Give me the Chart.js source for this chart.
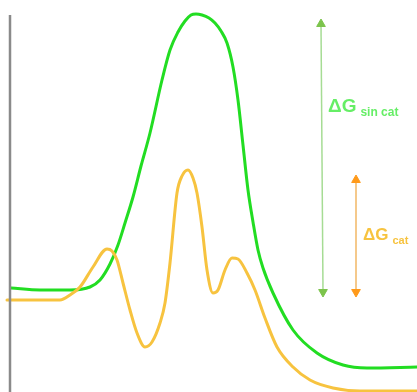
<!DOCTYPE html>
<html>
<head>
<meta charset="utf-8">
<script src="https://cdn.jsdelivr.net/npm/chart.js@4"></script>
<style>
html,body{margin:0;padding:0;background:#fff;}
#wrap{width:417px;height:392px;}
</style>
</head>
<body>
<div id="wrap"><canvas id="c" width="417" height="392"></canvas></div>
<script>
// Reaction coordinate (x) and energy (y, measured upward from the bottom)
const uncatX = [11,40,70,90,100,110,118,125,133,141,150,162,170,178,185,191,196,202,209,215,221,227,233,238,243,248,253,258,263,273,293,317,343,367,417];
const uncatY = [104,102,102,105,112,128,147,169,195,226,259,312,342,360,371,377,378,377,374,369,361,349,325,292,247,202,170,142,124,99,62,39,27,24,25];

const catX = [7,60,70,80,93,107,112,117,123,130,137,145,152,160,165,170,177,182,188,193,197,202,207,213,218,225,232,238,247,255,265,277,293,310,333,360,417];
const catY = [92,92,97,105,125,143,141,132,109,82,59,45,50,69,89,129,199,216,222,214,199,165,122,99,102,122,134,133,119,102,74,45,25,12,4,1,1];

const axisX = [10,10];
const axisY = [0,377];

const arrowSinCatX = [321,323];
const arrowSinCatY = [368,100];
const arrowCatX = [356,356];
const arrowCatY = [212,100];

const labels = [
  {main:'ΔG', sub:'sin cat', x:328, y:280, color:'#66ee66', mainSize:19, subSize:12},
  {main:'ΔG', sub:'cat', x:363, y:152, color:'#f7c33f', mainSize:17, subSize:11}
];

const pts = (xs, ys) => xs.map((x, i) => ({x: x, y: ys[i]}));

const labelPlugin = {
  id: 'dgLabels',
  afterDatasetsDraw(chart) {
    const {ctx, scales} = chart;
    ctx.save();
    labels.forEach(l => {
      const px = scales.x.getPixelForValue(l.x);
      const py = scales.y.getPixelForValue(l.y);
      ctx.fillStyle = l.color;
      ctx.textBaseline = 'alphabetic';
      ctx.font = 'bold ' + l.mainSize + 'px "Liberation Sans", Arial, sans-serif';
      ctx.fillText(l.main, px, py);
      const w = ctx.measureText(l.main).width;
      ctx.font = 'bold ' + l.subSize + 'px "Liberation Sans", Arial, sans-serif';
      ctx.fillText(l.sub, px + w + 4, py + 4);
    });
    ctx.restore();
  }
};

new Chart(document.getElementById('c'), {
  type: 'line',
  data: {
    datasets: [
      {data: pts(axisX, axisY), borderColor: '#8a8a8a', borderWidth: 2.5, pointRadius: 0, tension: 0},
      {data: pts(arrowSinCatX, arrowSinCatY), borderColor: '#a6dc94', borderWidth: 1.5,
       pointStyle: 'triangle', pointRadius: 5, pointRotation: [0, 180],
       pointBackgroundColor: '#7cc44c', pointBorderColor: '#7cc44c', pointBorderWidth: 1, tension: 0},
      {data: pts(arrowCatX, arrowCatY), borderColor: '#f2b866', borderWidth: 1.5,
       pointStyle: 'triangle', pointRadius: 5, pointRotation: [0, 180],
       pointBackgroundColor: '#ff9a1a', pointBorderColor: '#ff9a1a', pointBorderWidth: 1, tension: 0},
      {data: pts(catX, catY), borderColor: '#f7c33f', borderWidth: 3, pointRadius: 0,
       cubicInterpolationMode: 'monotone', borderCapStyle: 'round', borderJoinStyle: 'round'},
      {data: pts(uncatX, uncatY), borderColor: '#22dd22', borderWidth: 3, pointRadius: 0,
       cubicInterpolationMode: 'monotone', borderCapStyle: 'round', borderJoinStyle: 'round'}
    ]
  },
  options: {
    responsive: false,
    animation: false,
    layout: {padding: 0, autoPadding: false},
    plugins: {legend: {display: false}, tooltip: {enabled: false}},
    scales: {
      x: {type: 'linear', min: 0, max: 417, display: false},
      y: {type: 'linear', min: 0, max: 392, display: false}
    }
  },
  plugins: [labelPlugin]
});
</script>
</body>
</html>
